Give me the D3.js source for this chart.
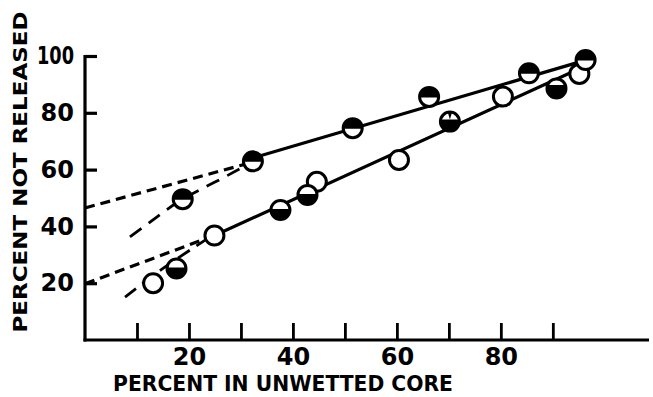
<!DOCTYPE html>
<html>
<head>
<meta charset="utf-8">
<script src="https://cdn.jsdelivr.net/npm/d3@7"></script>
<style>
  html, body { margin: 0; padding: 0; background: #fff; }
  svg { display: block; }
  text { font-family: "DejaVu Sans", sans-serif; font-weight: bold; fill: #000; }
</style>
</head>
<body>
<svg id="chart" width="653" height="397"></svg>
<script>
// ---- data ----
const xTicks = [10, 20, 30, 40, 50, 60, 70, 80, 90];
const xTickLabels = [20, 40, 60, 80];
const yTicks = [20, 40, 60, 80, 100];
const xTitle = "PERCENT IN UNWETTED CORE";
const yTitle = "PERCENT NOT RELEASED";

// upper series (top half black)
const upperX = [18.8, 32.3, 51.5, 66.2, 85.4, 96.3];
const upperY = [49.6, 62.9, 74.6, 85.6, 93.9, 98.6];
// lower series, open circles
const openX = [13.1, 24.9, 44.6, 60.4, 80.4, 95.1];
const openY = [20.0, 36.8, 55.7, 63.4, 85.7, 93.7];
// lower series, bottom half black
const halfX = [17.6, 37.6, 42.8, 70.2, 90.7];
const halfY = [25.2, 45.8, 51.1, 76.9, 88.6];
const halfKind = ["half", "half", "half", "notch", "cap"];

// fitted lines
const upperSolid = [[32.3, 64.1], [97.0, 98.9]];
const lowerSolid = [[24.9, 36.8], [97.1, 97.2]];
const upperDashStraight = [[0, 46.5], [31, 62]];
const upperDashCurve = [[8.65, 36.3], [13.8, 43.3], [18.8, 49.6], [25, 55.6], [31, 61.5]];
const lowerDashStraight = [[0, 19.8], [24, 36.2]];
const lowerDashCurve = [[7.7, 15.1], [15, 25.2], [24, 36.2]];

// ---- chart ----
const svg = d3.select("#chart");
const x = d3.scaleLinear().domain([0, 108.5]).range([85, 649]);
const y = d3.scaleLinear().domain([0, 100]).range([340, 56]);

// axes
const xAxis = d3.axisBottom(x).tickValues(xTicks).tickSizeInner(-17).tickSizeOuter(0)
  .tickFormat(d => xTickLabels.includes(d) ? d : "");
const gx = svg.append("g").attr("transform", `translate(0,${y(0)})`).call(xAxis);
gx.select(".domain").attr("stroke", "#000").attr("stroke-width", 3.2).attr("d", `M${x(0) - 1.5},0H${x(108.5)}`);
gx.selectAll(".tick line").attr("stroke", "#000").attr("stroke-width", 2.8);
gx.selectAll(".tick text").attr("y", 8).attr("font-size", 24)
  .attr("font-family", "DejaVu Sans, sans-serif").attr("font-weight", "bold").attr("fill", "#000");

const yAxis = d3.axisLeft(y).tickValues(yTicks).tickSizeInner(-12).tickSizeOuter(0).tickPadding(11);
const gy = svg.append("g").attr("transform", `translate(${x(0)},0)`).call(yAxis);
gy.select(".domain").attr("stroke", "#000").attr("stroke-width", 3.2).attr("d", `M0,${y(100) - 1}V${y(0) + 1.6}`);
gy.selectAll(".tick line").attr("stroke", "#000").attr("stroke-width", 3.2);
gy.selectAll(".tick text").attr("font-size", 24)
  .attr("font-family", "DejaVu Sans, sans-serif").attr("font-weight", "bold").attr("fill", "#000")
  .each(function (d) {
    if (d === 100) d3.select(this).attr("textLength", 37).attr("lengthAdjust", "spacingAndGlyphs");
  });

// titles
svg.append("text").attr("x", 283).attr("y", 391).attr("text-anchor", "middle")
  .attr("font-size", 22).attr("textLength", 340).attr("lengthAdjust", "spacingAndGlyphs")
  .text(xTitle);
svg.append("text").attr("transform", "translate(27,172) rotate(-90)").attr("text-anchor", "middle")
  .attr("font-size", 19).attr("textLength", 321).attr("lengthAdjust", "spacingAndGlyphs")
  .text(yTitle);

// lines
const line = d3.line().x(d => x(d[0])).y(d => y(d[1]));
const curve = d3.line().x(d => x(d[0])).y(d => y(d[1])).curve(d3.curveNatural);
const lg = svg.append("g").attr("fill", "none").attr("stroke", "#000").attr("stroke-width", 3.2);
lg.append("path").attr("d", line(upperSolid));
lg.append("path").attr("d", line(lowerSolid));
lg.append("path").attr("d", line(upperDashStraight)).attr("stroke-dasharray", "10,6").attr("stroke-width", 3.2);
lg.append("path").attr("d", line(lowerDashStraight)).attr("stroke-dasharray", "10,6").attr("stroke-width", 3.2);
lg.append("path").attr("d", curve(upperDashCurve)).attr("stroke-dasharray", "14,9").attr("stroke-width", 2.8);
lg.append("path").attr("d", curve(lowerDashCurve)).attr("stroke-dasharray", "14,8").attr("stroke-width", 2.8);

// markers
const r = 9.5;
function segBelow(h) { // black part below chord at y=h
  const w = Math.sqrt(r * r - h * h);
  return `M${-w},${h}L${w},${h}A${r},${r} 0 ${h < 0 ? 1 : 0} 1 ${-w},${h}Z`;
}
function segAbove(h) { // black part above chord at y=h
  const w = Math.sqrt(r * r - h * h);
  return `M${-w},${h}A${r},${r} 0 ${h > 0 ? 1 : 0} 1 ${w},${h}Z`;
}
function marker(g, fillPath, extra) {
  g.append("circle").attr("r", r).attr("fill", "#fff");
  if (fillPath) g.append("path").attr("d", fillPath).attr("fill", "#000");
  if (extra) g.append("path").attr("d", extra).attr("fill", "#000");
  g.append("circle").attr("r", r).attr("fill", "none").attr("stroke", "#000").attr("stroke-width", 3);
}
const mg = svg.append("g");
openX.forEach((v, i) => {
  marker(mg.append("g").attr("transform", `translate(${x(v)},${y(openY[i])})`), null);
});
halfX.forEach((v, i) => {
  const g = mg.append("g").attr("transform", `translate(${x(v)},${y(halfY[i])})`);
  const k = halfKind[i];
  if (k === "half") marker(g, segBelow(-1));
  else if (k === "cap") marker(g, segBelow(-3.5));
  else marker(g, segBelow(-2), `M${-2.2},${-r}L${2.2},${-r}L0,-2Z`);
});
upperX.forEach((v, i) => {
  marker(mg.append("g").attr("transform", `translate(${x(v)},${y(upperY[i])})`), segAbove(0.5));
});
</script>
</body>
</html>
